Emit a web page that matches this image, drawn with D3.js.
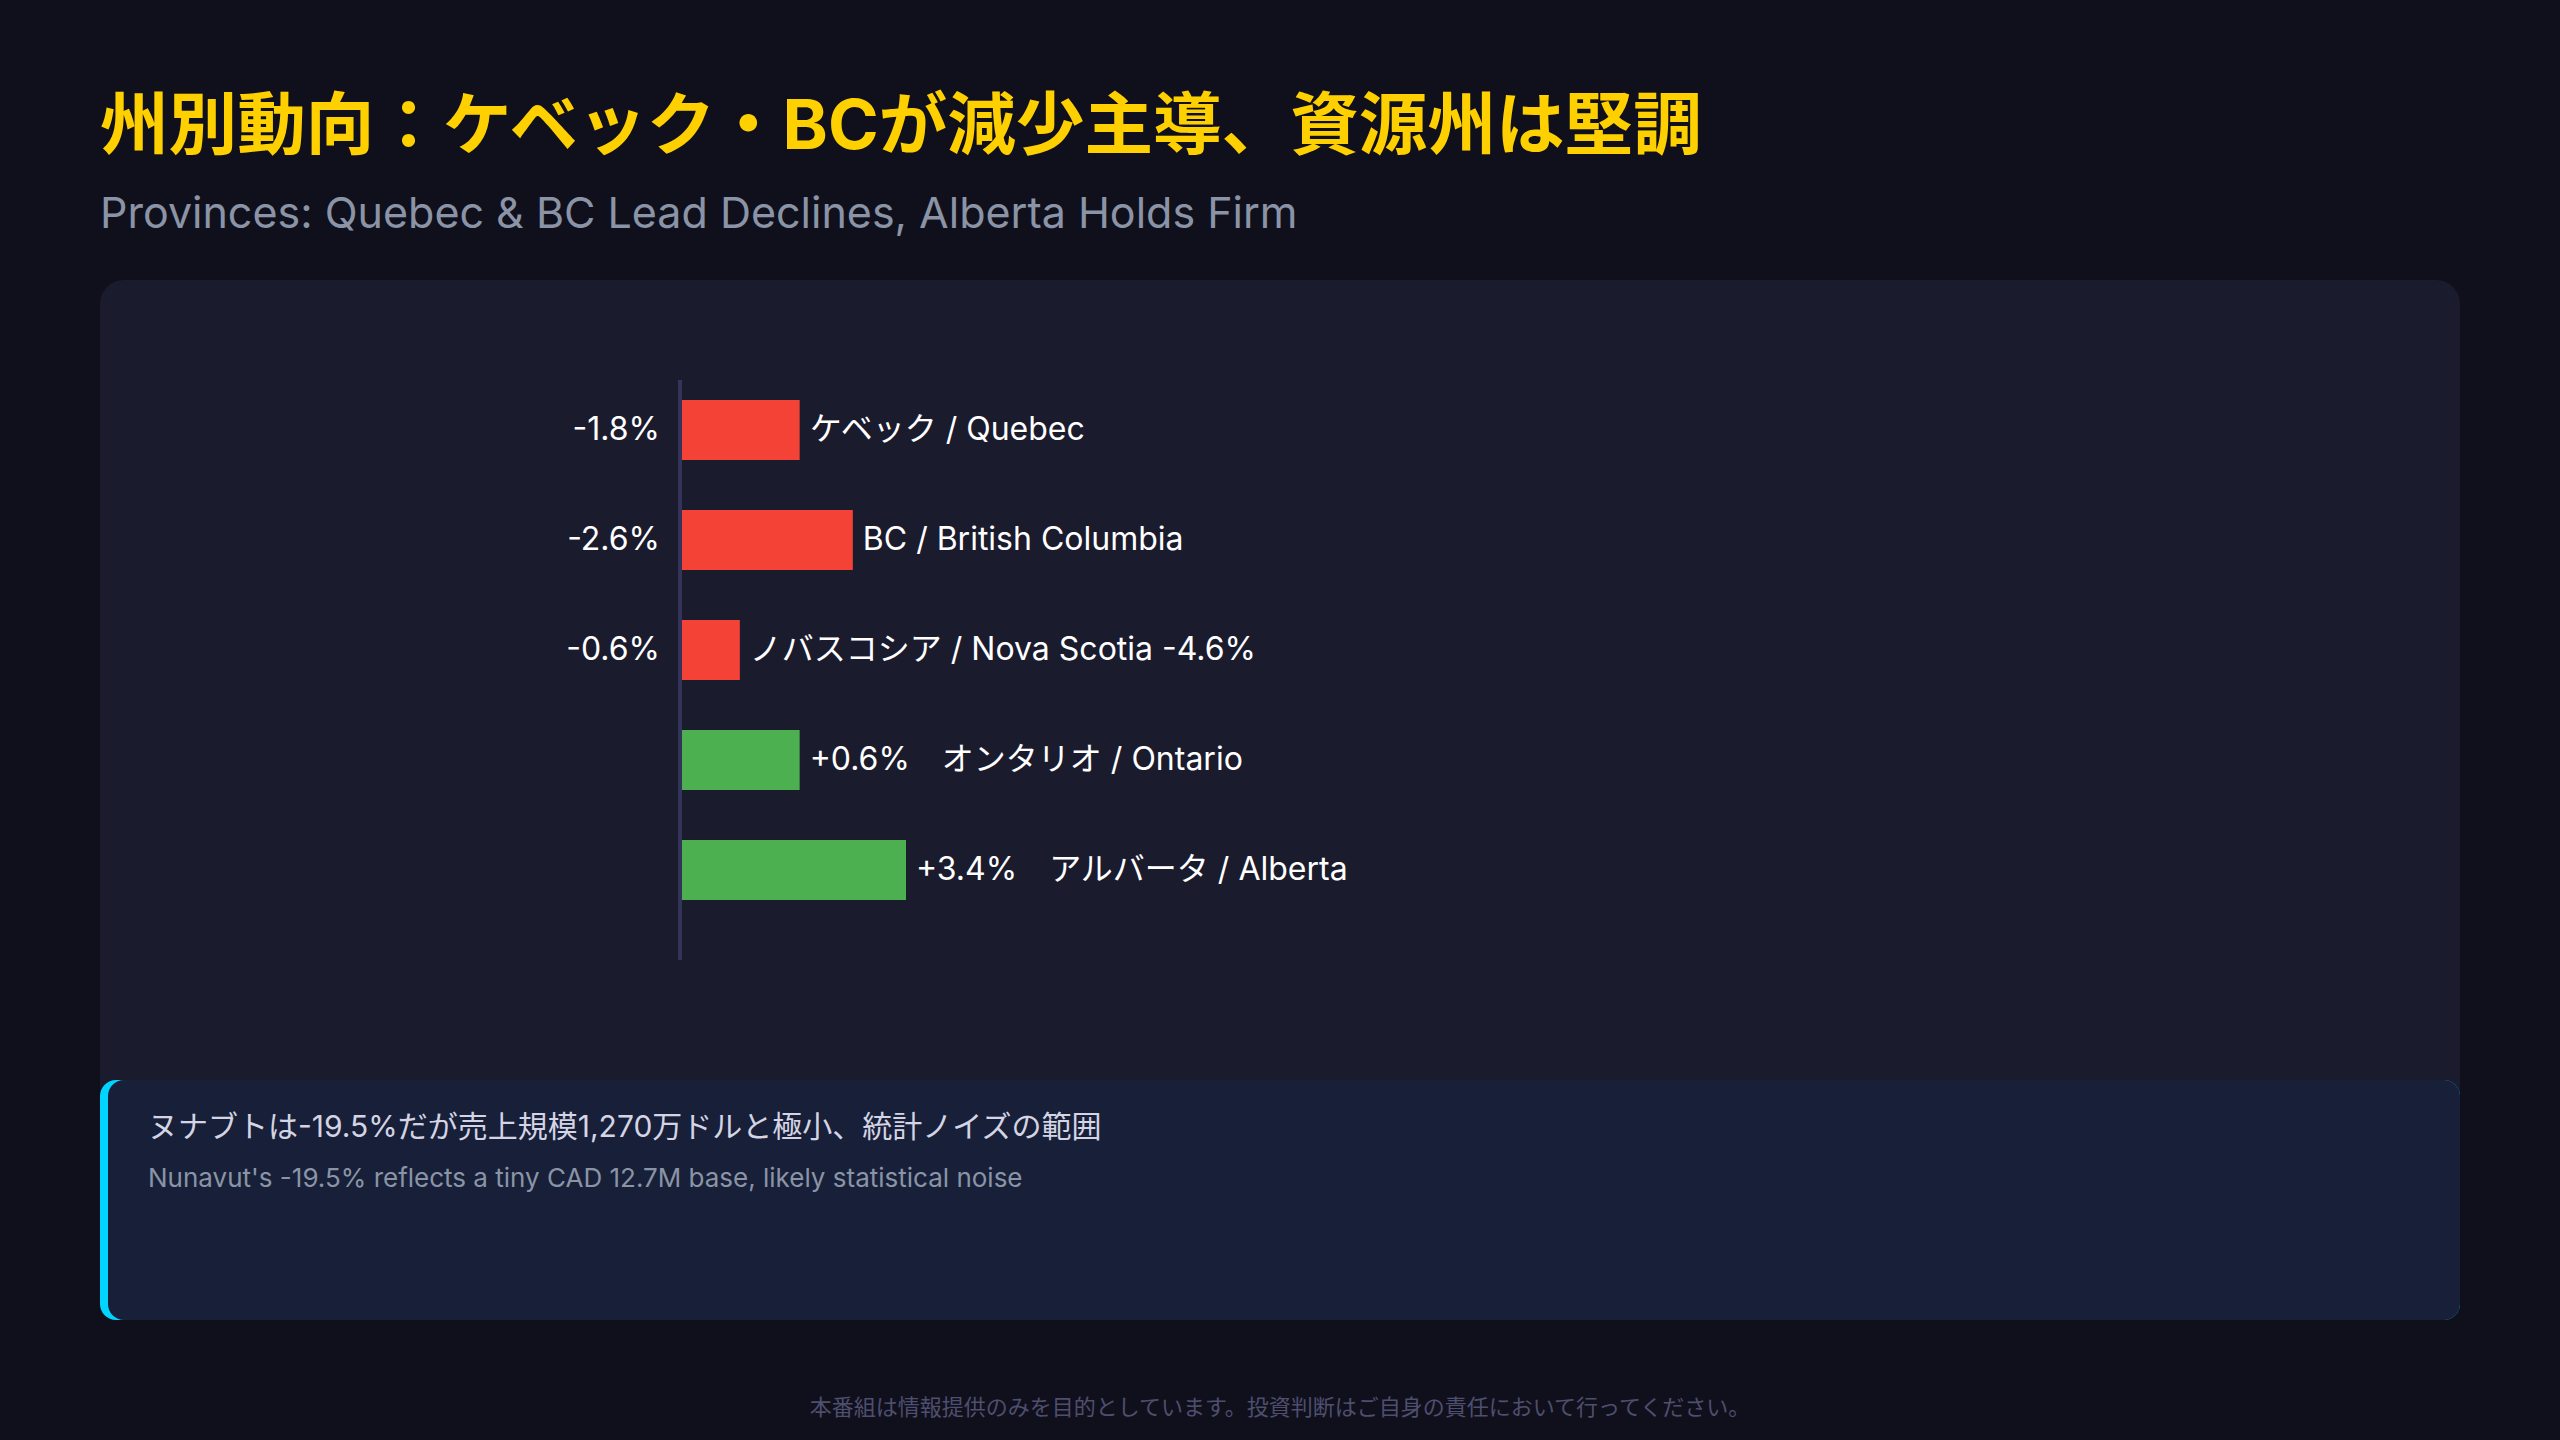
<!DOCTYPE html>
<html>
<head>
<meta charset="utf-8">
<script src="https://cdn.jsdelivr.net/npm/d3@7"></script>
<style>
  body { margin: 0; background: #10101d; }
  svg { display: block; }
  text { font-family: Inter, "Noto Sans CJK JP", sans-serif; }
</style>
</head>
<body>
<svg id="chart" width="2560" height="1440"></svg>
<script>
// data
var provinces = ["ケベック / Quebec", "BC / British Columbia", "ノバスコシア / Nova Scotia -4.6%", "オンタリオ / Ontario", "アルバータ / Alberta"];
var changeLabels = ["-1.8%", "-2.6%", "-0.6%", "+0.6%", "+3.4%"];
var barLengths = [-1.8, -2.6, -0.9, 1.8, 3.4];   // drawn bar length (in %) as seen in the chart

var titleJa = "州別動向：ケベック・BCが減少主導、資源州は堅調";
var titleEn = "Provinces: Quebec & BC Lead Declines, Alberta Holds Firm";
var noteJa = "ヌナブトは-19.5%だが売上規模1,270万ドルと極小、統計ノイズの範囲";
var noteEn = "Nunavut's -19.5% reflects a tiny CAD 12.7M base, likely statistical noise";
var footer = "本番組は情報提供のみを目的としています。投資判断はご自身の責任において行ってください。";

var svg = d3.select("#chart"),
    width = +svg.attr("width"),
    height = +svg.attr("height");

svg.append("rect").attr("width", width).attr("height", height).attr("fill", "#10101d");

svg.append("text")
    .attr("x", 100).attr("y", 124)
    .attr("dominant-baseline", "central")
    .attr("font-size", 68.6).attr("font-weight", 700)
    .attr("fill", "#ffd000")
    .text(titleJa);

svg.append("text")
    .attr("x", 100).attr("y", 228)
    .attr("font-size", 43)
    .attr("fill", "#8a94a6")
    .text(titleEn);

// chart panel
svg.append("rect")
    .attr("x", 100).attr("y", 280)
    .attr("width", 2360).attr("height", 830)
    .attr("rx", 24)
    .attr("fill", "#1b1b2e");

var x0 = 680;
var x = d3.scaleLinear()
    .domain([0, d3.max(barLengths, function(d) { return Math.abs(d); })])
    .range([0, 226]);

var y = d3.scaleBand()
    .domain(provinces)
    .range([375, 925])
    .paddingInner(50 / 110)
    .paddingOuter(25 / 110);

var chartG = svg.append("g");

var rows = chartG.selectAll(".row")
    .data(provinces.map(function(p, i) {
        return { name: p, label: changeLabels[i], len: barLengths[i] };
    }))
    .enter().append("g")
    .attr("class", "row")
    .attr("transform", function(d) { return "translate(0," + y(d.name) + ")"; });

rows.append("rect")
    .attr("x", x0)
    .attr("y", 0)
    .attr("width", function(d) { return x(Math.abs(d.len)); })
    .attr("height", y.bandwidth())
    .attr("fill", function(d) { return d.len < 0 ? "#f44336" : "#4caf50"; });

var mid = y.bandwidth() / 2 - 2;

// negative: value label left of axis
rows.filter(function(d) { return d.len < 0; })
    .append("text")
    .attr("x", x0 - 20).attr("y", mid)
    .attr("text-anchor", "end")
    .attr("dominant-baseline", "central")
    .attr("font-size", 32).attr("fill", "#ffffff")
    .text(function(d) { return d.label; });

rows.filter(function(d) { return d.len < 0; })
    .append("text")
    .attr("x", function(d) { return x0 + x(Math.abs(d.len)) + 10; })
    .attr("y", mid)
    .attr("dominant-baseline", "central")
    .attr("font-size", 32).attr("fill", "#ffffff")
    .text(function(d) { return d.name; });

// positive: value and name right of bar
rows.filter(function(d) { return d.len >= 0; })
    .append("text")
    .attr("x", function(d) { return x0 + x(d.len) + 10; })
    .attr("y", mid)
    .attr("dominant-baseline", "central")
    .attr("font-size", 32).attr("fill", "#ffffff")
    .text(function(d) { return d.label + "\u3000" + d.name; });

// axis line
chartG.append("line")
    .attr("x1", x0).attr("x2", x0)
    .attr("y1", 380).attr("y2", 960)
    .attr("stroke", "#34345a").attr("stroke-width", 4);

// note box
svg.append("rect")
    .attr("x", 100).attr("y", 1080)
    .attr("width", 2360).attr("height", 240)
    .attr("rx", 16)
    .attr("fill", "#00d4ff");
svg.append("rect")
    .attr("x", 108).attr("y", 1080)
    .attr("width", 2352).attr("height", 240)
    .attr("rx", 16)
    .attr("fill", "#172038");

svg.append("text")
    .attr("x", 148).attr("y", 1126)
    .attr("dominant-baseline", "central")
    .attr("font-size", 30).attr("fill", "#d4d4e4")
    .text(noteJa);

svg.append("text")
    .attr("x", 148).attr("y", 1177)
    .attr("dominant-baseline", "central")
    .attr("font-size", 26).attr("fill", "#8a94a6")
    .text(noteEn);

svg.append("text")
    .attr("x", width / 2).attr("y", 1407)
    .attr("text-anchor", "middle")
    .attr("dominant-baseline", "central")
    .attr("font-size", 22).attr("fill", "#4e4e6e")
    .text(footer);
</script>
</body>
</html>
